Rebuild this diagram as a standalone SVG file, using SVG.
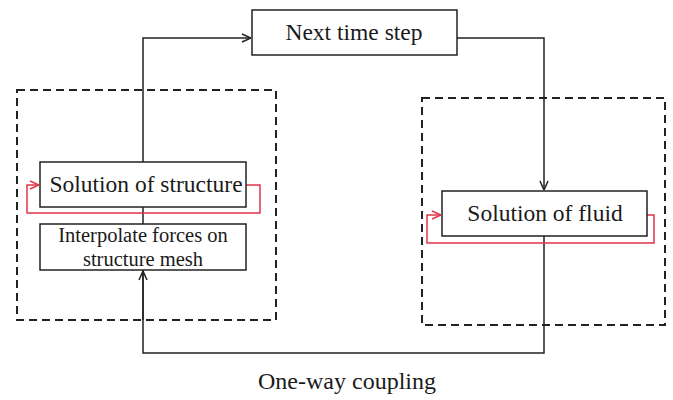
<svg xmlns="http://www.w3.org/2000/svg" width="673" height="400" viewBox="0 0 673 400">
<defs>
<style>
.box{fill:#fff;stroke:#222;stroke-width:1.5}
.dash{fill:none;stroke:#222;stroke-width:2;stroke-dasharray:8,5}
.ln{fill:none;stroke:#222;stroke-width:1.5}
.red{fill:none;stroke:#e0354a;stroke-width:1.5}
text{font-family:"Liberation Serif",serif;font-size:23.5px;fill:#1a1a1a;text-anchor:middle}
.sm{font-size:20.5px}
</style>
<marker id="ah" viewBox="0 0 10 10" refX="10" refY="5" markerWidth="10" markerHeight="10" markerUnits="userSpaceOnUse" orient="auto">
<path d="M1,1 L10,5 L1,9" fill="none" stroke="#222" stroke-width="1.5"/>
</marker>
<marker id="ahr" viewBox="0 0 10 10" refX="10" refY="5" markerWidth="10" markerHeight="10" markerUnits="userSpaceOnUse" orient="auto">
<path d="M1,1 L10,5 L1,9" fill="none" stroke="#e0354a" stroke-width="1.5"/>
</marker>
</defs>
<rect width="673" height="400" fill="#fff"/>
<g id="group-structure"><rect class="dash" x="17" y="90" width="259" height="230"/></g>
<g id="group-fluid"><rect class="dash" x="422" y="98" width="243" height="227"/></g>
<g id="connectors">
<path class="ln" d="M143,320 L143,38 L251,38" marker-end="url(#ah)"/>
<path class="ln" d="M457,38 L544,38 L544,190" marker-end="url(#ah)"/>
<path class="ln" d="M544,236 L544,353 L143,353 L143,271" marker-end="url(#ah)"/>
<path class="red" d="M246,185 L260,185 L260,213 L27,213 L27,185 L39,185" marker-end="url(#ahr)"/>
<path class="red" d="M647,215 L654,215 L654,243 L427,243 L427,215 L441,215" marker-end="url(#ahr)"/>
</g>
<g id="next-time-step"><rect class="box" x="252" y="10" width="205" height="45"/><text x="354" y="40">Next time step</text></g>
<g id="solution-structure"><rect class="box" x="40" y="162" width="206" height="45"/><text x="146" y="192">Solution of structure</text></g>
<g id="interpolate"><rect class="box" x="40" y="224" width="206" height="46"/><text class="sm" x="143" y="242">Interpolate forces on</text><text class="sm" x="143" y="266">structure mesh</text></g>
<g id="solution-fluid"><rect class="box" x="442" y="191" width="205" height="45"/><text x="545" y="221">Solution of fluid</text></g>
<g id="caption"><text x="347" y="389" style="font-size:24px">One-way coupling</text></g>
</svg>
